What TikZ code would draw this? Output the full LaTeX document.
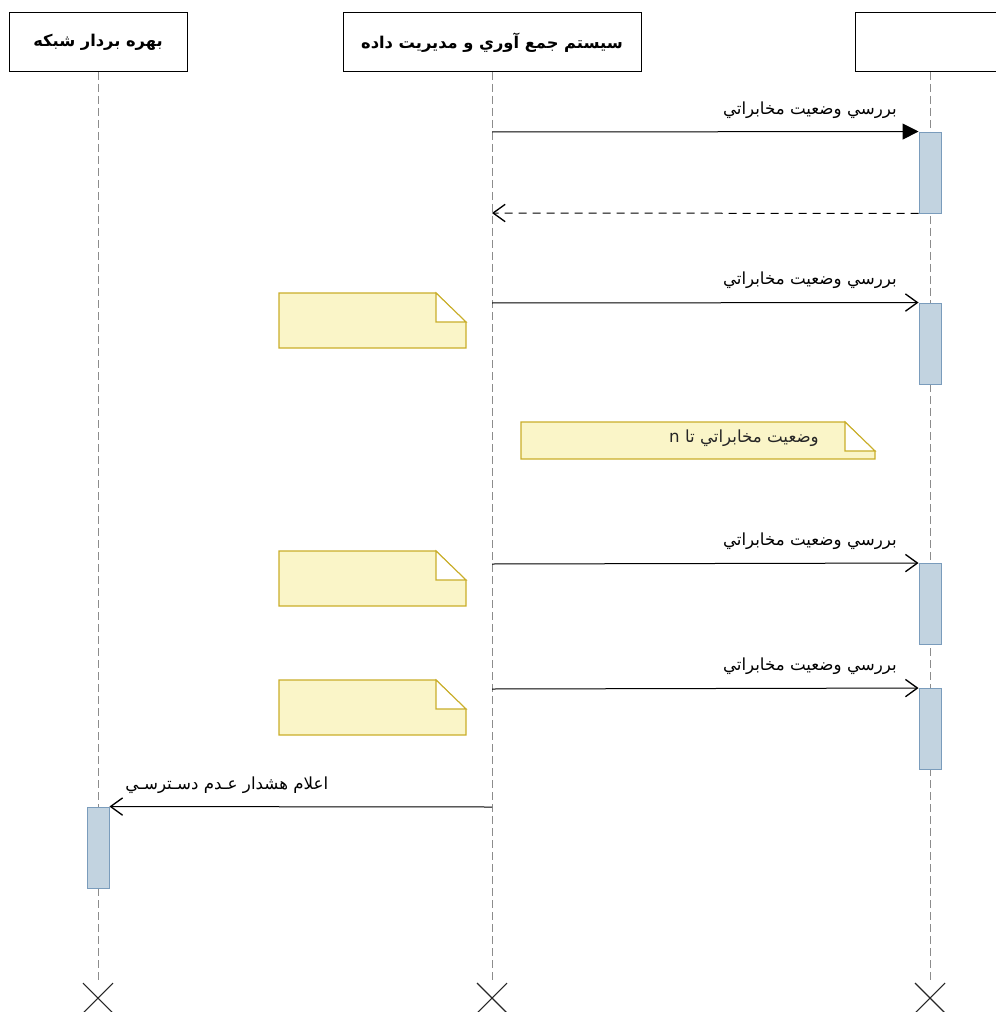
\documentclass[tikz,border=0pt]{standalone}
\usepackage{fontspec}
\usetikzlibrary{arrows.meta}
\TeXXeTstate=1
\newfontfamily\arabicfont[Script=Arabic]{DejaVu Sans}
\definecolor{actfill}{HTML}{C2D3E0}
\definecolor{actdraw}{HTML}{7A9CBC}
\definecolor{notefill}{HTML}{FAF5C8}
\definecolor{notedraw}{HTML}{C9AE2A}
\definecolor{lifegray}{HTML}{8C8C8C}
\tikzset{
  head/.style={draw=black, line width=0.75pt, fill=white, minimum width=#1*0.75pt, minimum height=59*0.75pt, inner sep=0pt, font=\arabicfont\bfseries\fontsize{12.2}{14}\selectfont},
  life/.style={draw=lifegray, dash pattern=on 6pt off 3pt, line width=0.6pt},
  act/.style={draw=actdraw, fill=actfill, line width=0.7pt, minimum width=22*0.75pt, minimum height=81*0.75pt, inner sep=0pt},
  msgsolid/.style={draw=black, line width=0.75pt, -{Triangle[length=12pt,width=12pt]}},
  msgopen/.style={draw=black, line width=0.75pt, -{Straight Barb[length=9pt,width=13pt,line width=1pt]}},
  msgret/.style={draw=black, line width=0.75pt, dash pattern=on 6pt off 4.5pt, -{Straight Barb[length=9pt,width=13pt,line width=1pt]}},
  lbl/.style={font=\arabicfont\fontsize{12.5}{14}\selectfont, inner sep=0pt},
  note/.style={draw=notedraw, fill=notefill, line width=0.8pt, line join=miter},
  xmark/.style={draw=black!85, line width=0.8pt},
}
\begin{document}
\begin{tikzpicture}[x=0.75pt,y=-0.75pt]
\useasboundingbox (0,0) rectangle (995,1012);
% lifelines
\draw[life] (98,72) -- (98,983);
\draw[life] (492,72) -- (492,983);
\draw[life] (930,72) -- (930,983);
% headers
\node[head=178] (h1) at (98,42.5) {\beginR بهره بردار شبكه\endR};
\node[head=298] (h2) at (492,42.5) {\beginR سيستم جمع آوري و مديريت داده\endR};
\node[head=150] (h3) at (930,42.5) {};
% activations
\node[act] (a1) at (930,172.5) {};
\node[act] (a2) at (930,343.5) {};
\node[act] (a3) at (930,604) {};
\node[act] (a4) at (930,729) {};
\node[act] (a5) at (98,847.5) {};
% message sources
\coordinate (s1) at (492,132);
\coordinate (r1) at (492,213);
\coordinate (s2) at (492,303);
\coordinate (s3) at (492,564);
\coordinate (s4) at (492,689);
\coordinate (s5) at (492,807);
% messages
\draw[msgsolid] (s1) -- (a1.north west);
\draw[msgret] (a1.south west) -- (r1);
\draw[msgopen] (s2) -- (a2.north west);
\draw[msgopen] (s3) -- (a3.north west);
\draw[msgopen] (s4) -- (a4.north west);
\draw[msgopen] (s5) -- (a5.north east);
% labels
\node[lbl, anchor=east] (l1) at (897,110) {\beginR بررسي وضعيت مخابراتي\endR};
\node[lbl, anchor=east] (l2) at (897,280) {\beginR بررسي وضعيت مخابراتي\endR};
\node[lbl, anchor=east] (l3) at (897,541) {\beginR بررسي وضعيت مخابراتي\endR};
\node[lbl, anchor=east] (l4) at (897,666) {\beginR بررسي وضعيت مخابراتي\endR};
\node[lbl, anchor=west] (l5) at (125,785) {\beginR اعلام هشدار عـدم دسـترسـي\endR};
% notes
\foreach \y/\n in {293/n1,551/n2,680/n3}{
  \draw[note] (279,\y) -- (436,\y) -- (466,\y+29) -- (466,\y+55) -- (279,\y+55) -- cycle;
  \draw[note, fill=white] (436,\y) -- (466,\y+29) -- (436,\y+29) -- cycle;
  \coordinate (\n) at (372,\y+27);
}
\draw[note] (521,422) -- (845,422) -- (875,451) -- (875,459) -- (521,459) -- cycle;
\draw[note, fill=white] (845,422) -- (875,451) -- (845,451) -- cycle;
\node[lbl, anchor=east, text=black!85] (n4) at (819,438) {\beginR وضعيت مخابراتي تا \beginL n\endL\endR};
% destroy marks
\foreach \x/\n in {98/d1,492/d2,930/d3}{
  \coordinate (\n) at (\x,998);
  \draw[xmark] ([shift={(-15,-15)}]\n) -- ([shift={(15,15)}]\n);
  \draw[xmark] ([shift={(15,-15)}]\n) -- ([shift={(-15,15)}]\n);
}
\end{tikzpicture}
\end{document}
